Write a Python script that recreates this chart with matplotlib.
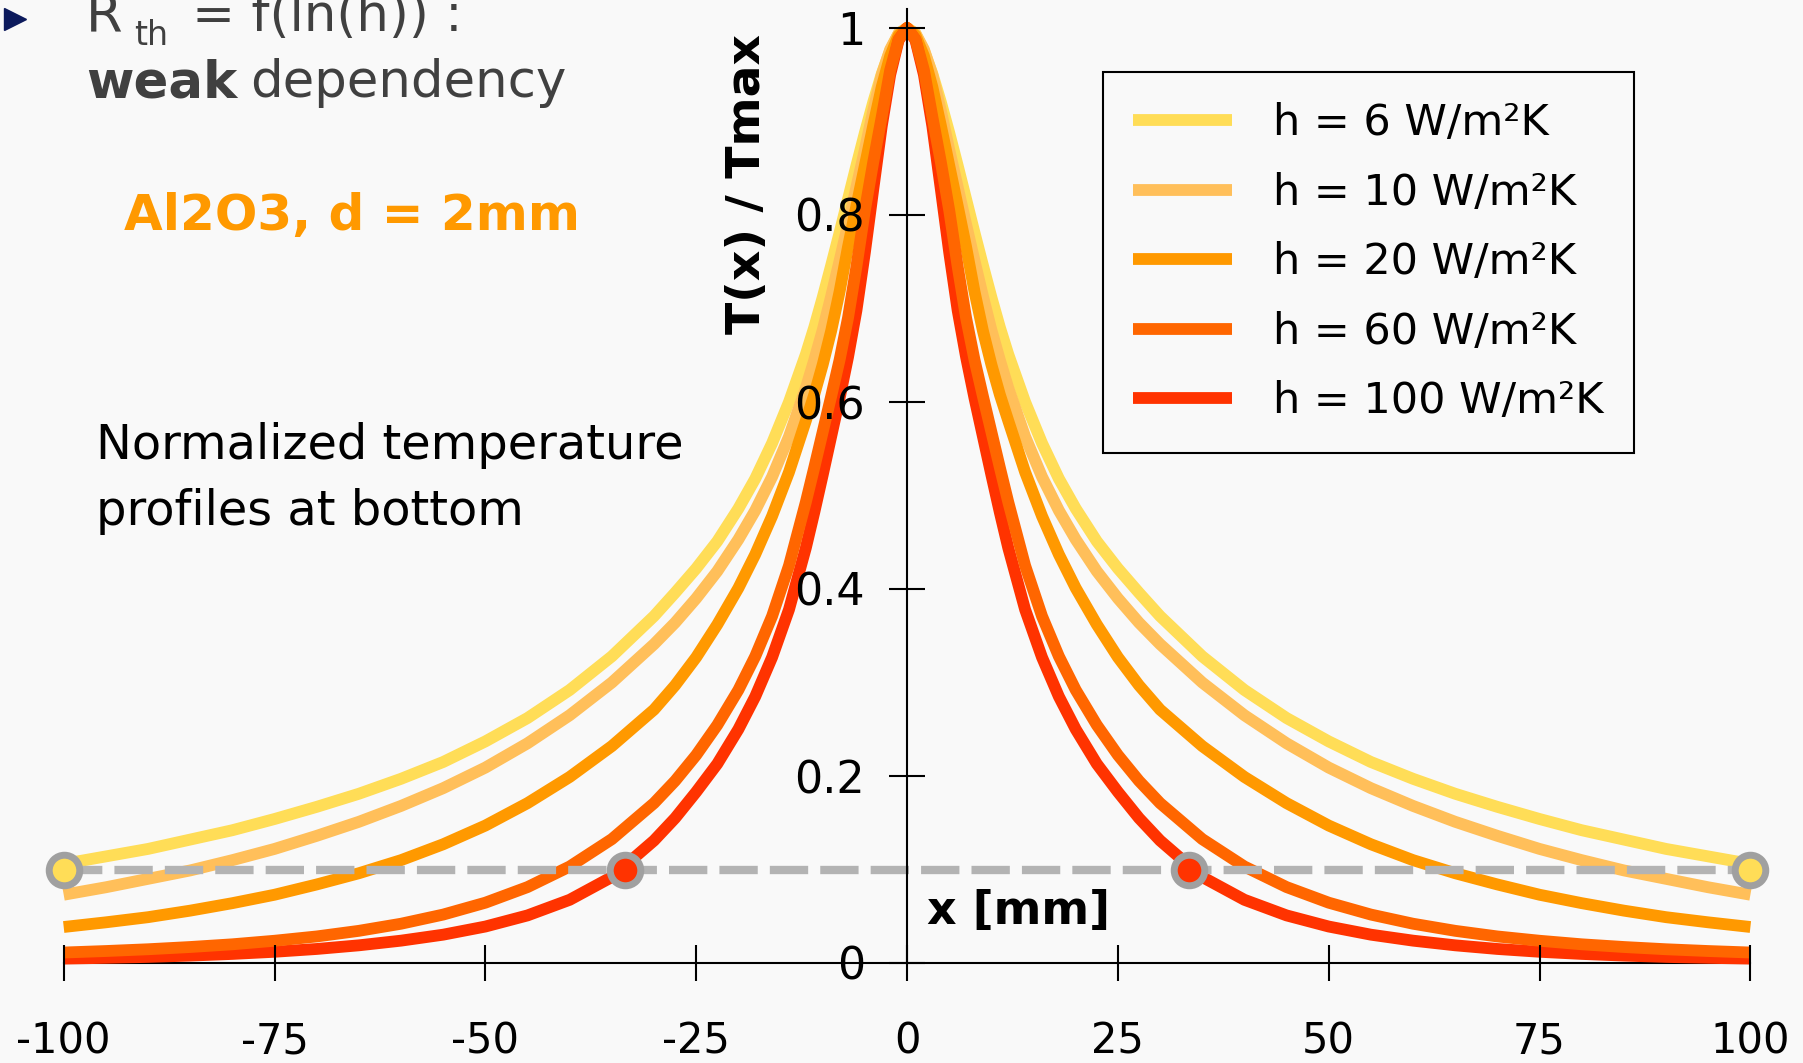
import matplotlib
matplotlib.use("Agg")
import matplotlib.pyplot as plt
from matplotlib.lines import Line2D

# half profile for x >= 0 [mm]; the plate is symmetric, the left half is mirrored
x_half = [0, 1, 2, 3, 4, 5, 6, 7, 8, 9, 10, 11, 12, 14, 16, 18, 20, 22.5, 25, 27.5, 30,
          35, 40, 45, 50, 55, 60, 65, 70, 75, 80, 85, 90, 95, 100]

t_h6 = [1.0, 0.994, 0.976, 0.951, 0.921, 0.888, 0.853, 0.817, 0.781, 0.746, 0.712, 0.680,
        0.651, 0.600, 0.556, 0.518, 0.486, 0.451, 0.422, 0.396, 0.371, 0.328, 0.292, 0.262,
        0.237, 0.215, 0.197, 0.181, 0.167, 0.154, 0.142, 0.132, 0.122, 0.114, 0.106]
t_h10 = [1.0, 0.994, 0.977, 0.950, 0.912, 0.870, 0.830, 0.790, 0.751, 0.713, 0.677, 0.645,
         0.615, 0.563, 0.520, 0.484, 0.453, 0.419, 0.390, 0.364, 0.341, 0.300, 0.265, 0.235,
         0.209, 0.187, 0.168, 0.151, 0.136, 0.122, 0.110, 0.099, 0.090, 0.081, 0.073]
t_h20 = [1.0, 0.992, 0.970, 0.937, 0.896, 0.853, 0.810, 0.766, 0.718, 0.676, 0.640, 0.608,
         0.580, 0.525, 0.478, 0.437, 0.401, 0.362, 0.327, 0.297, 0.271, 0.232, 0.199, 0.171,
         0.147, 0.127, 0.110, 0.096, 0.084, 0.073, 0.064, 0.056, 0.049, 0.0435, 0.0385]
t_h60 = [1.0, 0.988, 0.955, 0.905, 0.857, 0.805, 0.745, 0.690, 0.645, 0.606, 0.568, 0.530,
         0.493, 0.425, 0.371, 0.328, 0.292, 0.2545, 0.2224, 0.1948, 0.171, 0.1325, 0.1032,
         0.0812, 0.0645, 0.0518, 0.042, 0.0344, 0.0284, 0.0238, 0.020, 0.0171, 0.0147,
         0.0128, 0.0112]
t_h100 = [1.0, 0.987, 0.950, 0.895, 0.828, 0.760, 0.698, 0.648, 0.604, 0.563, 0.522, 0.482,
          0.444, 0.378, 0.327, 0.285, 0.250, 0.213, 0.183, 0.155, 0.131, 0.092, 0.0676,
          0.0509, 0.039, 0.0303, 0.0239, 0.0189, 0.015, 0.012, 0.0097, 0.0079, 0.0065,
          0.0055, 0.0047]

labels = ["h = 6 W/m²K", "h = 10 W/m²K", "h = 20 W/m²K", "h = 60 W/m²K", "h = 100 W/m²K"]
colors = ["#FFDD57", "#FFBF5A", "#FF9900", "#FF6600", "#FF3300"]

# 10 % level and where the h=6 / h=100 profiles cross it
level = 0.1
mark_x_h6 = [-100, 100]
mark_x_h100 = [-33.4, 33.4]

x_ticks = [-100, -75, -50, -25, 0, 25, 50, 75, 100]
y_ticks = [0, 0.2, 0.4, 0.6, 0.8, 1.0]
y_ticklabels = ["0", "0.2", "0.4", "0.6", "0.8", "1"]

BG = "#f9f9f9"
W, H = 1803, 1063


def fx(px):
    return px / W


def fy(py):
    return 1 - py / H


def mirror(xs, ys):
    return [-v for v in xs[:0:-1]] + list(xs), list(ys[:0:-1]) + list(ys)


plt.rcParams["font.family"] = ["DejaVu Sans"]
fig = plt.figure(figsize=(W / 100, H / 100), dpi=100, facecolor=BG)
ax = fig.add_axes([fx(63.7), 100 / H, (1750.4 - 63.7) / W, 953.7 / H])
ax.set_facecolor("none")
ax.set_xlim(-100, 100)
ax.set_ylim(0, 1.02)

series = [t_h6, t_h10, t_h20, t_h60, t_h100]
lines = []
for ys, c, lab in zip(series, colors, labels):
    xs, yy = mirror(x_half, ys)
    ln, = ax.plot(xs, yy, color=c, lw=8.5, solid_capstyle="butt", solid_joinstyle="round",
                  label=lab, clip_on=False, zorder=3)
    lines.append(ln)
# h=60 sits on top near the peak
lines[3].set_zorder(3.5)

ax.plot([-100, 100], [level, level], color="#b3b3b3", lw=6, dashes=(4.6, 1.45),
        dash_capstyle="butt", zorder=4)
ax.plot(mark_x_h6, [level] * 2, "o", ms=22, mfc=colors[0], mec="#a0a0a0", mew=5,
        clip_on=False, zorder=5)
ax.plot(mark_x_h100, [level] * 2, "o", ms=22, mfc=colors[4], mec="#a0a0a0", mew=5,
        clip_on=False, zorder=5)

for s in ["top", "right"]:
    ax.spines[s].set_visible(False)
ax.spines["left"].set_position(("data", 0))
ax.spines["left"].set_linewidth(1.5)
ax.spines["left"].set_zorder(6)
ax.spines["bottom"].set_linewidth(1.5)
ax.xaxis.set_zorder(6)
ax.yaxis.set_zorder(6)
ax.set_xticks(x_ticks)
ax.set_xticklabels([str(v) for v in x_ticks])
ax.set_yticks(y_ticks)
ax.set_yticklabels(y_ticklabels)
ax.tick_params(axis="both", direction="inout", length=26.5, width=1.5, colors="black")
ax.tick_params(axis="x", pad=28.5, labelsize=30)
ax.tick_params(axis="y", pad=17, labelsize=32)

fig.text(fx(1019), fy(912), "x [mm]", fontsize=33, fontweight="bold", ha="center", va="center")
fig.text(fx(747), fy(184.5), "T(x) / Tmax", fontsize=34, fontweight="bold", rotation=90,
         ha="center", va="center")

leg = ax.legend(handles=lines, labels=labels, loc="upper left",
                bbox_to_anchor=(fx(1103), fy(72)), bbox_transform=fig.transFigure,
                fontsize=31, frameon=True, fancybox=False, edgecolor="black",
                facecolor=BG, framealpha=1, handlelength=2.3, handletextpad=0.95,
                borderpad=0.7, labelspacing=0.64, borderaxespad=0)
leg.get_frame().set_linewidth(1.5)
leg.set_zorder(7)

# slide text around the chart
dark = "#404040"
fig.add_artist(Line2D([fx(15)], [fy(19)], marker=">", ms=16, color="#0c1a5c",
                      transform=fig.transFigure))
fig.text(fx(86), fy(31), "R", fontsize=38, color=dark, va="baseline")
fig.text(fx(134), fy(45), "th", fontsize=24, color=dark, va="baseline")
fig.text(fx(192), fy(31), "= f(ln(h)) :", fontsize=37, color=dark, va="baseline")
fig.text(fx(86), fy(97), "weak", fontsize=37, fontweight="bold", color=dark, va="baseline")
fig.text(fx(250), fy(97), "dependency", fontsize=37, color=dark, va="baseline")

fig.text(fx(124), fy(230), "Al2O3, d = 2mm", fontsize=36, fontweight="bold",
         color="#FF9900", va="baseline")
fig.text(fx(96), fy(459), "Normalized temperature", fontsize=34.5, va="baseline")
fig.text(fx(96), fy(525), "profiles at bottom", fontsize=34.5, va="baseline")

fig.savefig("out.png", dpi=100, facecolor=BG)
